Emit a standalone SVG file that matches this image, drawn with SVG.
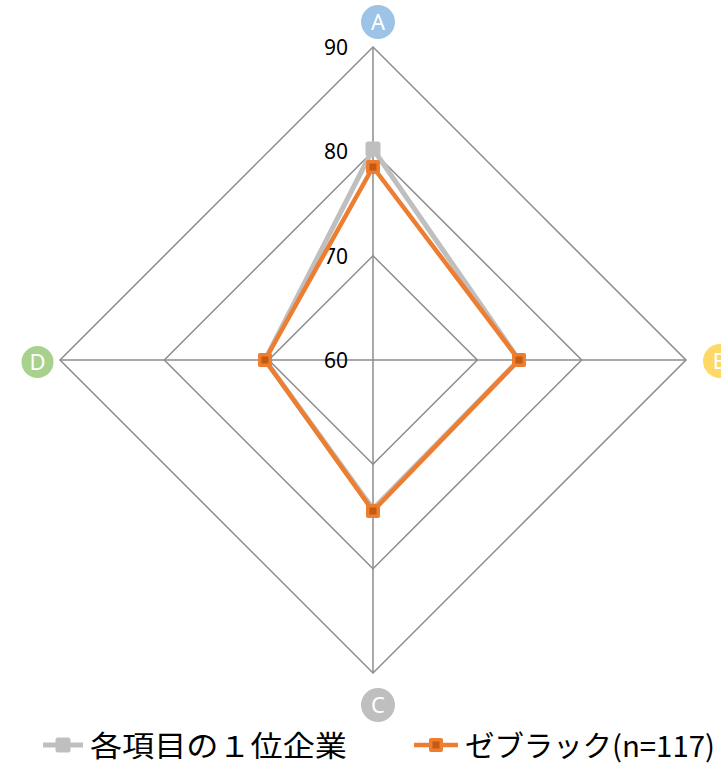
<svg xmlns="http://www.w3.org/2000/svg" width="721" height="765" viewBox="0 0 721 765">
<style>
.grid{fill:none;stroke:#8c8c8c;stroke-width:1.5}
.axis{stroke:#8c8c8c;stroke-width:1.5}
.tick{font-family:"Noto Sans","Noto Sans CJK JP",sans-serif;font-size:21px;fill:#000;text-anchor:end}
.lbl{font-family:"Noto Sans","Noto Sans CJK JP",sans-serif;font-size:22px;fill:#fff;text-anchor:middle}
.leg{font-family:"Noto Sans CJK JP","Noto Sans",sans-serif;font-size:29px;fill:#000}
.s1{fill:none;stroke:#BFBFBF;stroke-width:5;stroke-linejoin:round}
.s2{fill:none;stroke:#ED7D31;stroke-width:4.5;stroke-linejoin:round}
</style>
<defs>
<g id="m1"><rect x="-7.5" y="-7.5" width="15" height="15" rx="2.5" fill="#BFBFBF"/></g>
<g id="m2"><rect x="-7" y="-7" width="14" height="14" rx="2" fill="#ED7D31"/><rect x="-3.5" y="-3.5" width="7" height="7" fill="#C55A11"/></g>
</defs>
<g id="grid">
<polygon class="grid" points="373,47 686,360 373,673 60,360"/>
<polygon class="grid" points="373,151.3 581.7,360 373,568.7 164.3,360"/>
<polygon class="grid" points="373,255.7 477.3,360 373,464.3 268.7,360"/>
<line class="axis" x1="373" y1="47" x2="373" y2="673"/>
<line class="axis" x1="60" y1="360" x2="686" y2="360"/>
</g>
<g id="ticks">
<text class="tick" x="348" y="55">90</text>
<text class="tick" x="348" y="159">80</text>
<text class="tick" x="348" y="264">70</text>
<text class="tick" x="348" y="368">60</text>
</g>
<g id="node-A"><circle cx="378" cy="22" r="17" fill="#9DC3E6"/><text class="lbl" x="378" y="30">A</text></g>
<g id="node-B"><circle cx="720" cy="361" r="17" fill="#FFD966"/><text class="lbl" x="720" y="369">B</text></g>
<g id="node-C"><circle cx="378" cy="705" r="17" fill="#BFBFBF"/><text class="lbl" x="378" y="713">C</text></g>
<g id="node-D"><circle cx="37.5" cy="362" r="16" fill="#A9D18E"/><text class="lbl" x="37.5" y="370">D</text></g>
<g id="connectors">
<polygon class="s1" points="373,149 519,360 373,509 265,360"/>
<polygon class="s2" points="373,167 519,360 373,511 265,360"/>
</g>
<g id="markers">
<use href="#m1" x="373" y="149"/>
<use href="#m2" x="373" y="167"/>
<use href="#m2" x="519" y="360"/>
<use href="#m2" x="373" y="511"/>
<use href="#m2" x="265" y="360"/>
</g>
<g id="legend">
<line x1="43" y1="745" x2="83" y2="745" stroke="#BFBFBF" stroke-width="5"/>
<use href="#m1" x="63" y="745"/>
<text class="leg" x="90" y="757" textLength="257" lengthAdjust="spacingAndGlyphs">各項目の１位企業</text>
<line x1="414" y1="745" x2="458" y2="745" stroke="#ED7D31" stroke-width="4.5"/>
<use href="#m2" x="436" y="745"/>
<text class="leg" x="465" y="757" textLength="250" lengthAdjust="spacingAndGlyphs">ゼブラック(n=117)</text>
</g>
</svg>
